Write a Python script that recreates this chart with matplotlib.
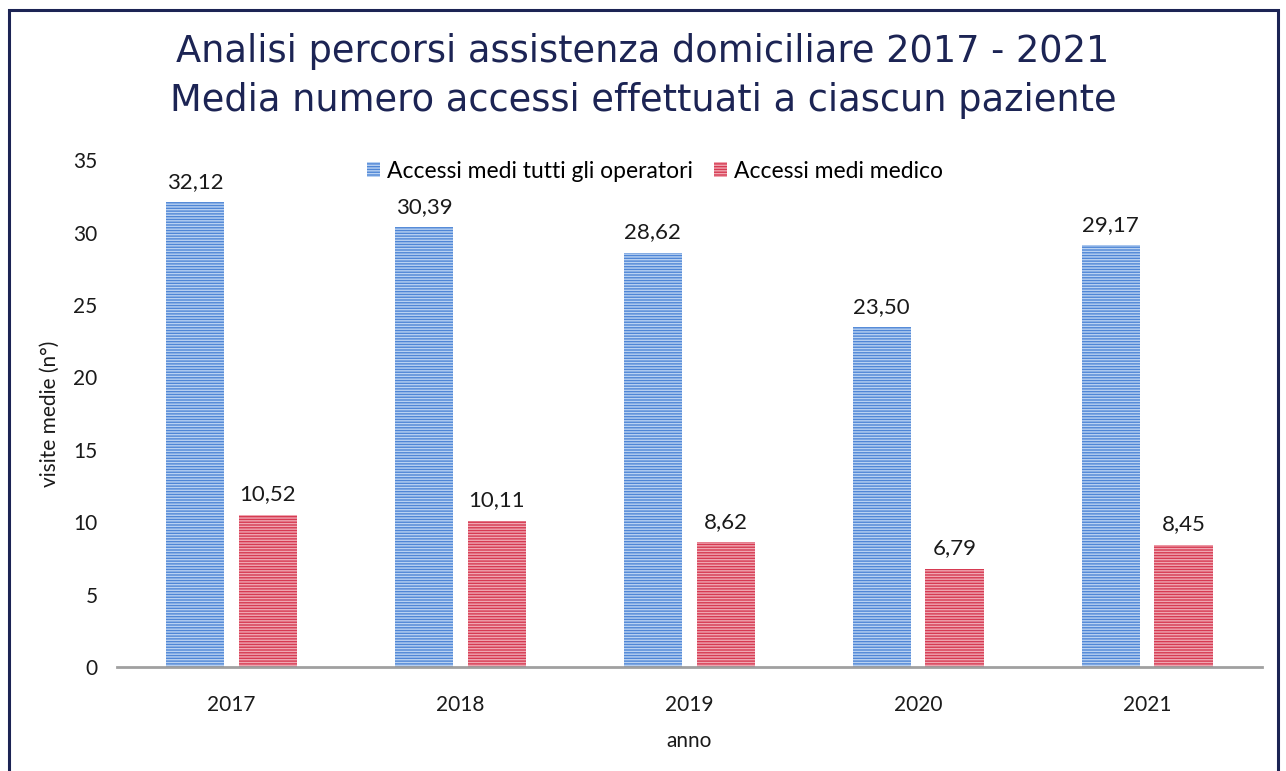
import numpy as np
import matplotlib.pyplot as plt
from matplotlib.patches import Rectangle

anni = ['2017', '2018', '2019', '2020', '2021']
accessi_operatori = [32.12, 30.39, 28.62, 23.50, 29.17]
accessi_medico = [10.52, 10.11, 8.62, 6.79, 8.45]
etichette_operatori = ['32,12', '30,39', '28,62', '23,50', '29,17']
etichette_medico = ['10,52', '10,11', '8,62', '6,79', '8,45']

plt.rcParams['font.family'] = ['Lato', 'DejaVu Sans']
plt.rcParams['hatch.linewidth'] = 1.0

fig = plt.figure(figsize=(12.86, 7.71), dpi=100)
fig.patch.set_facecolor('white')

# cornice esterna
fig.patches.append(Rectangle((0.007, -0.05), 0.987, 1.037, transform=fig.transFigure,
                             fill=False, edgecolor='#1c2454', linewidth=2.2))

ax = fig.add_axes([0.091, 0.135, 0.89, 0.657])
x = np.arange(len(anni))
w = 0.255
off = 0.159

ax.bar(x - off, accessi_operatori, w, color='#4f86d6', edgecolor='#b9d2f2',
       linewidth=0, hatch='------', label='Accessi medi tutti gli operatori')
ax.bar(x + off, accessi_medico, w, color='#d63a52', edgecolor='#f0a7b2',
       linewidth=0, hatch='------', label='Accessi medi medico')

for i in range(len(anni)):
    ax.text(x[i] - off, accessi_operatori[i] + 0.7, etichette_operatori[i],
            ha='center', va='bottom', fontsize=16, color='#1a1a1a')
    ax.text(x[i] + off, accessi_medico[i] + 0.7, etichette_medico[i],
            ha='center', va='bottom', fontsize=16, color='#1a1a1a')

ax.set_xlim(-0.5, 4.5)
ax.set_ylim(0, 35)
ax.set_yticks(range(0, 36, 5))
ax.set_xticks(x)
ax.set_xticklabels(anni)
ax.tick_params(axis='both', length=0, labelsize=15, labelcolor='#1a1a1a')
ax.tick_params(axis='x', pad=20)
ax.tick_params(axis='y', pad=14)
for s in ['top', 'right', 'left']:
    ax.spines[s].set_visible(False)
ax.spines['bottom'].set_color('#a0a0a0')
ax.spines['bottom'].set_linewidth(2)

ax.set_ylabel('visite medie (n°)', fontsize=15, color='#1a1a1a', labelpad=10)
ax.set_xlabel('anno', fontsize=15, color='#1a1a1a', labelpad=12)

leg = ax.legend(loc='upper center', bbox_to_anchor=(0.47, 1.04), ncol=2, frameon=False,
                fontsize=16.5, handlelength=0.6, handleheight=0.6, handletextpad=0.3,
                columnspacing=0.9)

fig.text(0.5, 0.933, 'Analisi percorsi assistenza domiciliare 2017 - 2021',
         ha='center', va='center', fontsize=26.5, color='#1c2454',
         family=['DejaVu Sans'])
fig.text(0.5, 0.87, 'Media numero accessi effettuati a ciascun paziente',
         ha='center', va='center', fontsize=26.5, color='#1c2454',
         family=['DejaVu Sans'])

fig.savefig('out.png', dpi=100)
